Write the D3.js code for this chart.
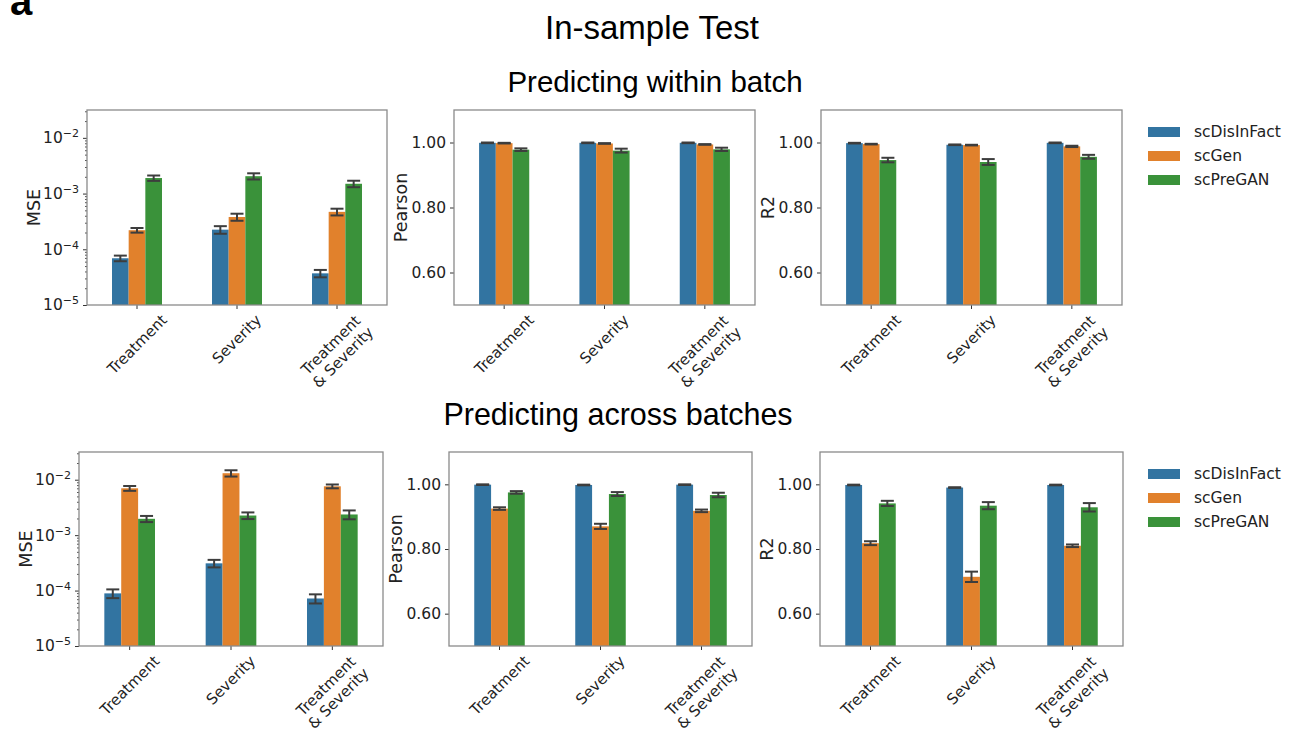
<!DOCTYPE html>
<html>
<head>
<meta charset="utf-8">
<script src="https://cdn.jsdelivr.net/npm/d3@7"></script>
<style>
  body { margin: 0; background: #fff; }
  svg { display: block; }
</style>
</head>
<body>
<div id="chart"></div>
<script>
// categories and methods
var categories = ["Treatment", "Severity", "Treatment\n& Severity"];
var methods = ["scDisInFact", "scGen", "scPreGAN"];
var colors = ["#3274a1", "#e1812c", "#3a923a"];

// rows = method, columns = category
var withinMSE    = [[6.9e-5, 2.25e-4, 3.7e-5], [2.2e-4, 3.8e-4, 4.7e-4], [1.9e-3, 2.05e-3, 1.5e-3]];
var withinMSEErr = [[0.8e-5, 0.35e-4, 0.56e-5], [0.21e-4, 0.55e-4, 0.65e-4], [0.21e-3, 0.26e-3, 0.2e-3]];
var withinPearson    = [[0.999, 0.999, 0.999], [0.998, 0.997, 0.994], [0.978, 0.975, 0.979]];
var withinPearsonErr = [[0.001, 0.001, 0.001], [0.001, 0.001, 0.001], [0.004, 0.006, 0.005]];
var withinR2    = [[0.998, 0.993, 0.999], [0.995, 0.992, 0.988], [0.946, 0.940, 0.956]];
var withinR2Err = [[0.001, 0.001, 0.001], [0.001, 0.001, 0.002], [0.007, 0.009, 0.006]];

var acrossMSE    = [[8.9e-5, 3.1e-4, 7.2e-5], [7.0e-3, 1.31e-2, 7.6e-3], [1.97e-3, 2.26e-3, 2.36e-3]];
var acrossMSEErr = [[1.6e-5, 0.48e-4, 1.35e-5], [0.7e-3, 1.7e-3, 0.6e-3], [0.25e-3, 0.31e-3, 0.43e-3]];
var acrossPearson    = [[0.999, 0.998, 0.999], [0.925, 0.870, 0.918], [0.975, 0.970, 0.967]];
var acrossPearsonErr = [[0.001, 0.001, 0.001], [0.004, 0.008, 0.004], [0.004, 0.006, 0.007]];
var acrossR2    = [[0.998, 0.990, 0.998], [0.818, 0.714, 0.810], [0.941, 0.934, 0.929]];
var acrossR2Err = [[0.001, 0.001, 0.001], [0.006, 0.016, 0.004], [0.008, 0.011, 0.013]];

var logTicks = [1e-5, 1e-4, 1e-3, 1e-2];
var linTicks = [0.6, 0.8, 1.0];

var width = 1295, height = 729;
var axisFont = "'DejaVu Sans', sans-serif";
var titleFont = "'Liberation Sans', Arial, sans-serif";

var svg = d3.select("#chart").append("svg")
    .attr("width", width)
    .attr("height", height);

// titles
svg.append("text").attr("x", 10).attr("y", 15)
    .attr("font-family", titleFont).attr("font-weight", "bold").attr("font-size", 40)
    .text("a");
svg.append("text").attr("x", 652).attr("y", 39).attr("text-anchor", "middle")
    .attr("font-family", titleFont).attr("font-size", 33).text("In-sample Test");
svg.append("text").attr("x", 655).attr("y", 92).attr("text-anchor", "middle")
    .attr("font-family", titleFont).attr("font-size", 29.5).text("Predicting within batch");
svg.append("text").attr("x", 618).attr("y", 425).attr("text-anchor", "middle")
    .attr("font-family", titleFont).attr("font-size", 30.5).text("Predicting across batches");

function drawPanel(p) {
    var bottom = p.top + p.height;
    var x = d3.scaleBand().domain(categories).range([p.left, p.left + p.width]);
    var inner = d3.scaleBand().domain(methods).range([0, x.bandwidth() * 0.5]);
    var y;
    if (p.log) {
	y = d3.scaleLog().domain([1e-5, Math.pow(10, -1.5)]).range([bottom, p.top]);
    } else {
	y = d3.scaleLinear().domain([0.5, 1.1]).range([bottom, p.top]);
    }
    var base = y.range()[0];

    var g = svg.append("g");

    // bars
    methods.forEach(function(m, mi) {
	g.selectAll(null)
	    .data(categories)
	    .enter().append("rect")
	    .attr("x", function(c) { return x(c) + x.bandwidth() * 0.25 + inner(m); })
	    .attr("width", inner.bandwidth())
	    .attr("y", function(c, ci) { return y(p.means[mi][ci]); })
	    .attr("height", function(c, ci) { return base - y(p.means[mi][ci]); })
	    .attr("fill", colors[mi]);
    });

    // error bars
    methods.forEach(function(m, mi) {
	categories.forEach(function(c, ci) {
	    var cx = x(c) + x.bandwidth() * 0.25 + inner(m) + inner.bandwidth() / 2;
	    var v = p.means[mi][ci], e = p.errs[mi][ci];
	    var y1 = y(v - e), y2 = y(v + e);
	    var eb = g.append("g").attr("stroke", "#3d3d3d").attr("stroke-width", 2);
	    eb.append("line").attr("x1", cx).attr("x2", cx).attr("y1", y1).attr("y2", y2);
	    eb.append("line").attr("x1", cx - 6.5).attr("x2", cx + 6.5).attr("y1", y1).attr("y2", y1);
	    eb.append("line").attr("x1", cx - 6.5).attr("x2", cx + 6.5).attr("y1", y2).attr("y2", y2);
	});
    });

    // y axis
    var yAxis = d3.axisLeft(y).tickValues(p.log ? logTicks : linTicks).tickSize(4).tickPadding(4);
    if (!p.log) yAxis.tickFormat(d3.format(".2f"));
    var ya = g.append("g").attr("transform", "translate(" + p.left + ",0)").call(yAxis);
    ya.select(".domain").remove();
    ya.selectAll(".tick line").attr("stroke", "#333");
    ya.selectAll(".tick text")
	.attr("font-family", axisFont).attr("font-size", 15.5).attr("fill", "#222");
    if (p.log) {
	ya.selectAll(".tick text").each(function(d) {
	    var t = d3.select(this).text(null);
	    t.append("tspan").text("10");
	    t.append("tspan").attr("dy", "-0.55em").attr("font-size", 11).text("\u2212" + Math.round(-Math.log10(d)));
	});
	// minor ticks
	var minors = [];
	[1e-5, 1e-4, 1e-3, 1e-2].forEach(function(dec) {
	    for (var k = 2; k <= 9; k++) {
		if (dec * k <= Math.pow(10, -1.5)) minors.push(dec * k);
	    }
	});
	var minorAxis = d3.axisLeft(y).tickValues(minors).tickSize(2).tickFormat("");
	var ma = g.append("g").attr("transform", "translate(" + p.left + ",0)").call(minorAxis);
	ma.select(".domain").remove();
	ma.selectAll(".tick line").attr("stroke", "#555");
    }

    // x axis
    var xAxis = d3.axisBottom(x).tickSize(4).tickFormat("");
    var xa = g.append("g").attr("transform", "translate(0," + bottom + ")").call(xAxis);
    xa.select(".domain").remove();
    xa.selectAll(".tick line").attr("stroke", "#333");

    categories.forEach(function(c) {
	var lg = g.append("g")
	    .attr("transform", "translate(" + (x(c) + x.bandwidth() / 2) + "," + (bottom + 6) + ")");
	var t = lg.append("text")
	    .attr("text-anchor", "middle")
	    .attr("font-family", axisFont).attr("font-size", 15).attr("fill", "#222");
	c.split("\n").forEach(function(line, i) {
	    t.append("tspan").attr("x", 0).attr("dy", i === 0 ? 0 : "1.15em").text(line);
	});
	var bb = t.node().getBBox();
	var half = (bb.width + bb.height) / (2 * Math.SQRT2);
	t.attr("transform", "translate(0," + half + ") rotate(-45) translate(" +
	       (-(bb.x + bb.width / 2)) + "," + (-(bb.y + bb.height / 2)) + ")");
    });

    // frame
    g.append("rect")
	.attr("x", p.left).attr("y", p.top)
	.attr("width", p.width).attr("height", p.height)
	.attr("fill", "none").attr("stroke", "#8a8a8a").attr("stroke-width", 1.3);

    // y label
    g.append("text")
	.attr("transform", "translate(" + (p.left - 53) + "," + (p.top + p.height / 2) + ") rotate(-90)")
	.attr("text-anchor", "middle").attr("dominant-baseline", "central")
	.attr("font-family", axisFont).attr("font-size", 17.5).attr("fill", "#222")
	.text(p.label);
}

function drawLegend(top) {
    var lg = svg.append("g");
    methods.forEach(function(m, i) {
	var cy = top + i * 24;
	lg.append("rect").attr("x", 1148).attr("y", cy - 5).attr("width", 32).attr("height", 10)
	    .attr("fill", colors[i]);
	lg.append("text").attr("x", 1194).attr("y", cy)
	    .attr("dominant-baseline", "central")
	    .attr("font-family", axisFont).attr("font-size", 15.5).attr("fill", "#222")
	    .text(m);
    });
}

// top row: within batch
drawPanel({left: 87, top: 110, width: 300, height: 195, log: true, label: "MSE", means: withinMSE, errs: withinMSEErr});
drawPanel({left: 454, top: 110, width: 301, height: 195, log: false, label: "Pearson", means: withinPearson, errs: withinPearsonErr});
drawPanel({left: 821, top: 110, width: 301, height: 195, log: false, label: "R2", means: withinR2, errs: withinR2Err});
drawLegend(132);

// bottom row: across batches
drawPanel({left: 79, top: 452, width: 304, height: 194, log: true, label: "MSE", means: acrossMSE, errs: acrossMSEErr});
drawPanel({left: 449, top: 452, width: 303, height: 194, log: false, label: "Pearson", means: acrossPearson, errs: acrossPearsonErr});
drawPanel({left: 820, top: 452, width: 303, height: 194, log: false, label: "R2", means: acrossR2, errs: acrossR2Err});
drawLegend(474);
</script>
</body>
</html>
